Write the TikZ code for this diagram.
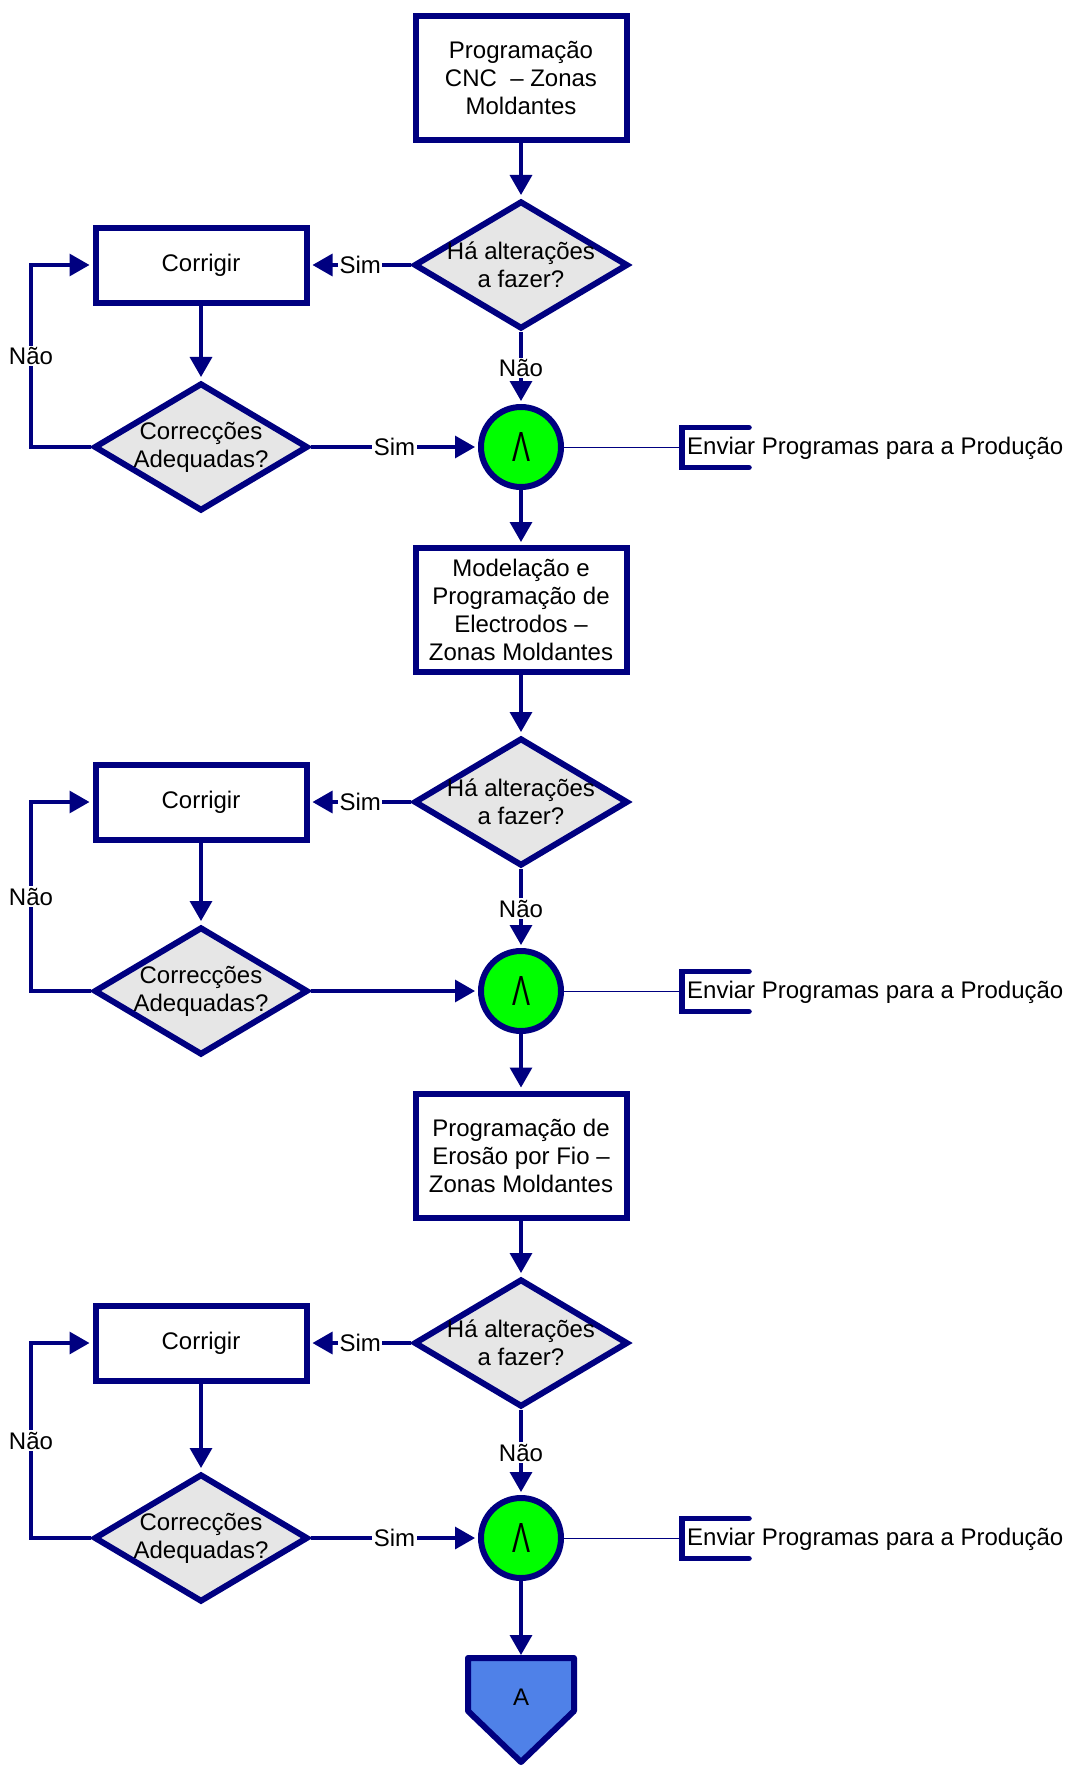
\documentclass[tikz,border=0pt]{standalone}
\usepackage{graphicx}
\usepackage{fontspec}
\setmainfont{Liberation Sans}
\usetikzlibrary{shapes.geometric,arrows.meta}
\definecolor{azulesc}{RGB}{0,0,128}
\definecolor{cinzento}{RGB}{230,230,230}
\definecolor{verde}{RGB}{0,255,0}
\definecolor{azulA}{RGB}{79,129,232}
\tikzset{
caixa/.style={draw=azulesc, line width=6pt, fill=white, minimum width=211pt, minimum height=124pt, align=center, inner sep=0pt},
corrigir/.style={caixa, minimum height=75pt},
decisao/.style={diamond, draw=azulesc, line width=6pt, fill=cinzento, minimum width=214pt, minimum height=128pt, inner sep=0pt},
juncao/.style={circle, draw=azulesc, line width=6pt, fill=verde, minimum size=80pt, inner sep=0pt},
seta/.style={draw=azulesc, line width=3.3pt, shorten >=3pt, -{Triangle[length=20pt,width=22pt]}},
rotulo/.style={fill=white, inner sep=1.5pt},
fino/.style={draw=azulesc, line width=0.8pt},
colchete/.style={draw=azulesc, line width=5.5pt, line cap=round},
nota/.style={anchor=base west, inner sep=0pt}
}
\newcommand{\eLogico}{\resizebox{18pt}{29pt}{Λ}}

\begin{document}
\begin{tikzpicture}[x=1pt, y=1pt, font=\fontsize{24}{28}\selectfont]
\useasboundingbox (0,0) rectangle (1066,-1766);
\coordinate (laco) at (31,0);

\node[caixa] (p1) at (521,-78) {Programação\\CNC\ \ – Zonas\\Moldantes};
\node[decisao, label={[align=center]center:Há alterações\\a fazer?}] (d1) at (521,-265) {};
\node[corrigir] (co1) at (201,-265) {Corrigir};
\node[decisao, label={[align=center]center:Correcções\\Adequadas?}] (cq1) at (201,-447) {};
\node[juncao] (e1) at (521,-447) {\eLogico};
\node[nota] (nota1) at (687,-454) {Enviar Programas para a Produção};
\coordinate (c1) at ([shift={(-5pt,7pt)}]nota1.base west);

\node[caixa] (p2) at (521,-610) {Modelação e\\Programação de\\Electrodos –\\Zonas Moldantes};
\node[decisao, label={[align=center]center:Há alterações\\a fazer?}] (d2) at (521,-802) {};
\node[corrigir] (co2) at (201,-802) {Corrigir};
\node[decisao, label={[align=center]center:Correcções\\Adequadas?}] (cq2) at (201,-991) {};
\node[juncao] (e2) at (521,-991) {\eLogico};
\node[nota] (nota2) at (687,-998) {Enviar Programas para a Produção};
\coordinate (c2) at ([shift={(-5pt,7pt)}]nota2.base west);

\node[caixa] (p3) at (521,-1155.5) {Programação de\\Erosão por Fio –\\Zonas Moldantes};
\node[decisao, label={[align=center]center:Há alterações\\a fazer?}] (d3) at (521,-1343) {};
\node[corrigir] (co3) at (201,-1343) {Corrigir};
\node[decisao, label={[align=center]center:Correcções\\Adequadas?}] (cq3) at (201,-1538) {};
\node[juncao] (e3) at (521,-1538) {\eLogico};
\node[nota] (nota3) at (687,-1545) {Enviar Programas para a Produção};
\coordinate (c3) at ([shift={(-5pt,7pt)}]nota3.base west);

\draw[draw=azulesc, fill=azulA, line width=6pt, line join=round] (468,-1658) -- (574,-1658) -- (574,-1711) -- (521,-1762) -- (468,-1711) -- cycle;
\node (conA) at (521,-1697) {A};
\coordinate (topoA) at (521,-1658);

\draw[seta] (p1) -- (d1);
\draw[seta] (d1) -- node[rotulo]{Sim} (co1);
\draw[seta] (co1) -- (cq1);
\draw[seta] (cq1) -- node[rotulo]{Sim} (e1);
\draw[seta] (d1) -- node[rotulo]{Não} (e1);
\draw[seta] (cq1.west) -- (cq1.west -| laco) |- node[rotulo, pos=0.25]{Não} (co1.west);
\draw[seta] (e1) -- (p2);
\draw[fino] (e1) -- (c1);
\draw[colchete] ([shift={(67pt,19.5pt)}]c1) -- ([yshift=19.5pt]c1) -- ([yshift=-20.5pt]c1) -- ([shift={(67pt,-20.5pt)}]c1);

\draw[seta] (p2) -- (d2);
\draw[seta] (d2) -- node[rotulo]{Sim} (co2);
\draw[seta] (co2) -- (cq2);
\draw[seta] (cq2) -- (e2);
\draw[seta] (d2) -- node[rotulo]{Não} (e2);
\draw[seta] (cq2.west) -- (cq2.west -| laco) |- node[rotulo, pos=0.25]{Não} (co2.west);
\draw[seta] (e2) -- (p3);
\draw[fino] (e2) -- (c2);
\draw[colchete] ([shift={(67pt,19.5pt)}]c2) -- ([yshift=19.5pt]c2) -- ([yshift=-20.5pt]c2) -- ([shift={(67pt,-20.5pt)}]c2);

\draw[seta] (p3) -- (d3);
\draw[seta] (d3) -- node[rotulo]{Sim} (co3);
\draw[seta] (co3) -- (cq3);
\draw[seta] (cq3) -- node[rotulo]{Sim} (e3);
\draw[seta] (d3) -- node[rotulo]{Não} (e3);
\draw[seta] (cq3.west) -- (cq3.west -| laco) |- node[rotulo, pos=0.25]{Não} (co3.west);
\draw[seta] (e3) -- (topoA);
\draw[fino] (e3) -- (c3);
\draw[colchete] ([shift={(67pt,19.5pt)}]c3) -- ([yshift=19.5pt]c3) -- ([yshift=-20.5pt]c3) -- ([shift={(67pt,-20.5pt)}]c3);
\end{tikzpicture}
\end{document}
